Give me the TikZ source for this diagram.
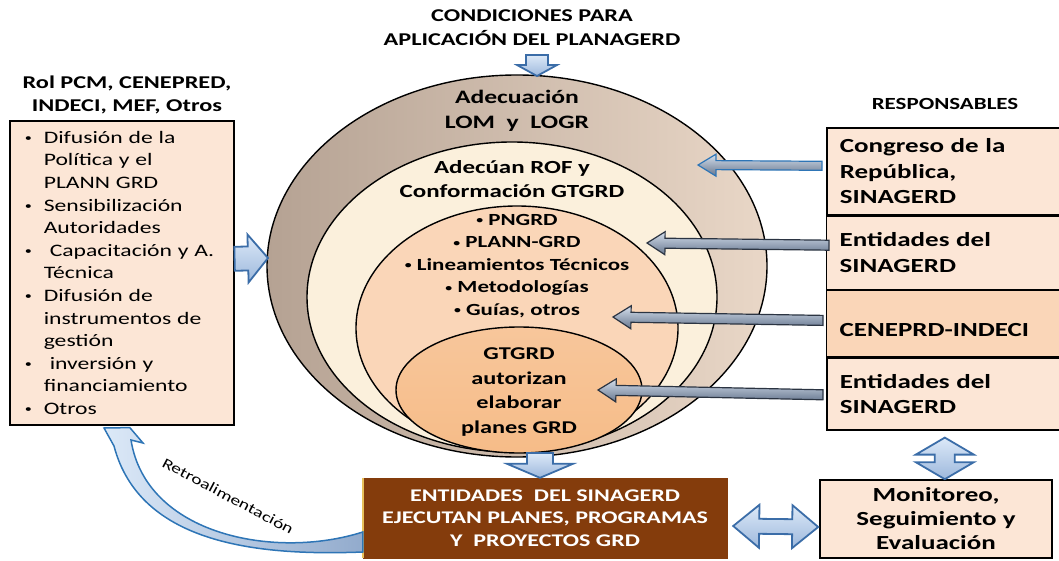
\documentclass[tikz,border=0pt]{standalone}
\usepackage{fontspec}
\setmainfont{Carlito}[FakeStretch=1.35]
\usetikzlibrary{calc,shapes.geometric}

\definecolor{cafe}{HTML}{843C0C}
\definecolor{oro}{HTML}{E8C15A}
\definecolor{piel}{HTML}{FCE6D6}
\definecolor{durazno}{HTML}{FAD6B8}
\definecolor{naranja}{HTML}{F6BC88}
\definecolor{crema}{HTML}{FBF0DC}
\definecolor{taupeA}{HTML}{B5A293}
\definecolor{taupeB}{HTML}{E9D7C7}
\definecolor{azulborde}{HTML}{3B6DA8}
\definecolor{azulvivo}{HTML}{2E75B6}
\definecolor{azulclaro}{HTML}{DCE9F8}
\definecolor{azulmedio}{HTML}{9DB8DC}
\definecolor{grisazul}{HTML}{66768E}
\definecolor{grisclaro}{HTML}{D5DFEC}
\definecolor{grisborde}{HTML}{2B3442}

\tikzset{
  caja/.style={draw=black, line width=1.6pt, fill=piel, inner sep=0pt},
  anillo/.style={ellipse, draw=black, line width=1.4pt, inner sep=0pt},
  bloque/.style={draw=azulborde, line width=1.8pt, top color=azulclaro, bottom color=azulmedio, line join=miter},
  flechagris/.style={draw=grisborde, line width=1.2pt, top color=grisclaro, bottom color=grisazul},
  flechaazul/.style={flechagris, draw=azulvivo},
  txt/.style={font=\bfseries, align=center, inner sep=0pt},
}

% vinetas de la lista
\newcommand\vineta{\raisebox{0.1em}{\scalebox{0.6}{\textbullet}}}
\newcommand\punto{\makebox[22pt][l]{\hspace*{3pt}\vineta}}
\newcommand\sangria{\hspace*{22pt}}

% flecha de bloque: estilo, inicio, punta, cuerpo, punta (medio ancho), largo de punta
\newcommand\flechabloque[6]{
  \path ($(#3)!#6!(#2)$) coordinate (fb);
  \draw[#1] ($(#2)!#4!90:(#3)$) -- ($(fb)!#4!-90:(#2)$) -- ($(fb)!#5!-90:(#2)$) -- (#3)
    -- ($(fb)!#5!90:(#2)$) -- ($(fb)!#4!90:(#2)$) -- ($(#2)!#4!-90:(#3)$) -- cycle;
}
% flecha de bloque con dos puntas
\newcommand\flechadoble[6]{
  \path ($(#2)!#6!(#3)$) coordinate (fa) ($(#3)!#6!(#2)$) coordinate (fb);
  \draw[#1] (#2) -- ($(fa)!#5!90:(#3)$) -- ($(fa)!#4!90:(#3)$) -- ($(fb)!#4!-90:(#2)$)
    -- ($(fb)!#5!-90:(#2)$) -- (#3) -- ($(fb)!#5!90:(#2)$) -- ($(fb)!#4!90:(#2)$)
    -- ($(fa)!#4!-90:(#3)$) -- ($(fa)!#5!-90:(#3)$) -- cycle;
}

\begin{document}
\begin{tikzpicture}[x=1pt, y=-1pt]
\useasboundingbox (0,0) rectangle (1059,561);

\node[txt, font=\bfseries\fontsize{18}{24}\selectfont] (titulo) at (532,28) {CONDICIONES PARA\\APLICACIÓN DEL PLANAGERD};
\node[txt, font=\bfseries\fontsize{18}{23}\selectfont] (rolt) at (127,95) {Rol PCM, CENEPRED,\\INDECI, MEF, Otros};
\node[txt, font=\bfseries\fontsize{17}{18}\selectfont] (respt) at (945,104) {RESPONSABLES};

% circulos
\node[anillo, minimum width=500pt, minimum height=382pt, left color=taupeA, right color=taupeB] (anillo1) at (517,266) {};
\node[anillo, minimum width=410pt, minimum height=310pt, fill=crema] (anillo2) at (512,297) {};
\node[anillo, minimum width=322pt, minimum height=244pt, fill=durazno] (anillo3) at (517,328) {};
\node[anillo, minimum width=246pt, minimum height=126pt, top color=naranja!60!durazno, bottom color=naranja] (anillo4) at (519,390) {};

\node[txt, font=\bfseries\fontsize{19}{25}\selectfont] (lom) at (517,111) {Adecuación\\LOM\ \ y\ \ LOGR};
\node[txt, font=\bfseries\fontsize{18.5}{24}\selectfont] (rof) at (512,179) {Adecúan ROF y\\Conformación GTGRD};
\node[txt, font=\bfseries\fontsize{17}{22.5}\selectfont] (planes) at (517,266) {\vineta\ PNGRD\\\vineta\ PLANN-GRD\\\vineta\ Lineamientos Técnicos\\\vineta\ Metodologías\\\vineta\ Guías, otros};
\node[txt, font=\bfseries\fontsize{18}{24.5}\selectfont] (gtgrd) at (519,392) {GTGRD\\autorizan\\elaborar\\planes GRD};

% cajas
\node[caja, anchor=north west, minimum width=224pt, minimum height=304pt, text width=200pt, inner xsep=12pt, align=left,
  font=\fontsize{17.5}{22.6}\selectfont] (rol) at (9,120)
  {\punto Difusión de la\\\sangria Política y el\\\sangria PLANN GRD\\
   \punto Sensibilización\\\sangria Autoridades\\
   \punto\hspace*{6pt}Capacitación y A.\\\sangria Técnica\\
   \punto Difusión de\\\sangria instrumentos de\\\sangria gestión\\
   \punto\hspace*{6pt}inversión y\\\sangria financiamiento\\
   \punto Otros};

\tikzset{resp/.style={caja, anchor=north west, minimum width=236pt, text width=210pt, align=left,
  font=\bfseries\fontsize{20}{25.5}\selectfont}}
\node[resp, minimum height=87pt] (resp1) at (826,127) {Congreso de la\\República,\\SINAGERD};
\node[resp, minimum height=73pt, line width=1.2pt] (resp2) at (resp1.south west) {Entidades del\\SINAGERD};
\node[resp, minimum height=66pt, line width=1.2pt, fill=durazno] (resp3) at (resp2.south west) {\\CENEPRD-INDECI};
\node[resp, minimum height=72pt] (resp4) at (resp3.south west) {Entidades del\\SINAGERD};

\node[draw=cafe, fill=cafe, minimum width=364pt, minimum height=80pt, inner sep=0pt, text=white, align=center,
  font=\bfseries\fontsize{17.8}{22.5}\selectfont] (ejec) at (545,518)
  {ENTIDADES\ \ DEL SINAGERD\\EJECUTAN PLANES, PROGRAMAS\\Y\ \ PROYECTOS GRD};
\draw[oro, line width=1.5pt] (ejec.north west) -- (ejec.south west);

\node[caja, minimum width=232pt, minimum height=78pt, align=center,
  font=\bfseries\fontsize{20}{24}\selectfont] (monit) at (936,519) {Monitoreo,\\Seguimiento y\\Evaluación};

% flechas grandes
\coordinate (c1) at (537,55);
\coordinate (c2) at (537,76);
\flechabloque{bloque}{c1}{c2}{11pt}{20pt}{11pt}
\coordinate (d1) at ([yshift=14pt]rol.east);
\coordinate (d2) at (268,258);
\flechabloque{bloque}{d1}{d2}{12pt}{24pt}{20pt}
\coordinate (e1) at (540,453);
\flechabloque{bloque}{e1}{e1 |- ejec.north}{13pt}{33pt}{14pt}
\flechadoble{bloque}{[xshift=6pt, yshift=-8pt]ejec.east}{[xshift=-1pt, yshift=-8pt]monit.west}{7.5pt}{21.5pt}{26pt}
\flechadoble{bloque}{[yshift=-7pt]resp4.south}{resp4.south |- monit.north}{10pt}{29pt}{17pt}

% flechas de responsables
\coordinate (p1) at (698,165);
\coordinate (p2) at (647,243);
\coordinate (p3) at (613,317);
\coordinate (p4) at (598,390);
\flechabloque{flechaazul}{[xshift=-4pt, yshift=5.5pt]resp1.west}{p1}{4.5pt}{11pt}{18pt}
\flechabloque{flechagris}{[xshift=3pt, yshift=7.5pt]resp2.west}{p2}{5pt}{11.5pt}{18pt}
\flechabloque{flechagris}{[xshift=-3pt, yshift=3pt]resp3.west}{p3}{5pt}{11.5pt}{18pt}
\flechabloque{flechagris}{[xshift=-3pt, yshift=-1pt]resp4.west}{p4}{5pt}{11.5pt}{18pt}

% retroalimentacion
\coordinate (r1) at ([yshift=-14pt]ejec.west);
\coordinate (r2) at ([yshift=-34pt]ejec.west);
\coordinate (rp) at ([xshift=8pt, yshift=-2pt]rol.south);
\draw[draw=azulvivo, line width=1.5pt, left color=azulclaro, right color=azulmedio!80!grisazul, line join=miter]
  (r2) .. controls (260,556) and (140,545) .. (114,446) -- (104,428) -- (rp) -- (143,443) -- (131,440)
  .. controls (146,535) and (275,560) .. (r1) -- cycle;
\node[font=\fontsize{14.5}{16}\selectfont, rotate=-28] (retro) at (228,496) {Retroalimentación};
\end{tikzpicture}
\end{document}
